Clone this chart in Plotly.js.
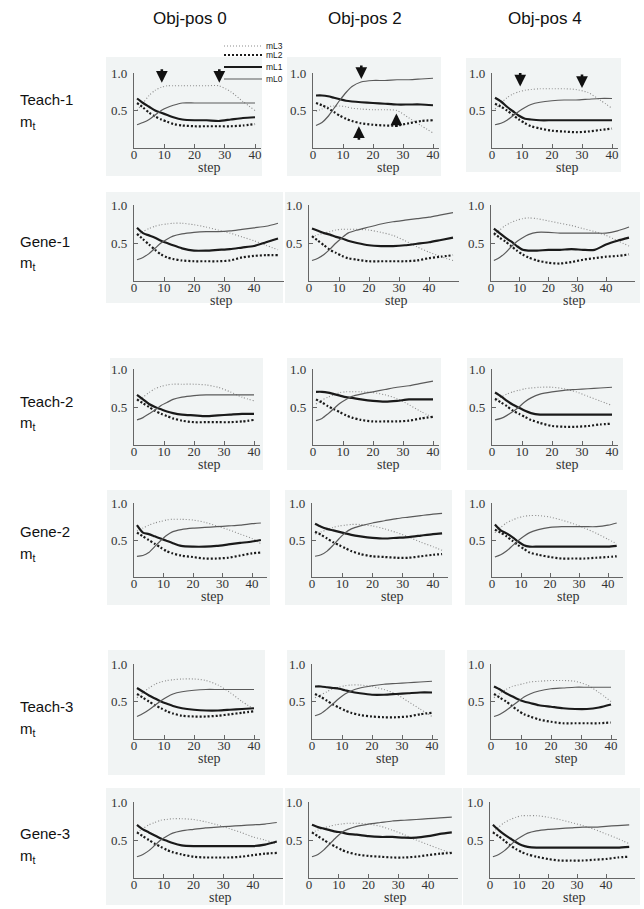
<!DOCTYPE html>
<html><head><meta charset="utf-8">
<script src="https://cdn.plot.ly/plotly-3.0.1.min.js"></script>
<style>html,body{margin:0;padding:0;background:#fff}#plot{width:644px;height:909px}</style>
</head><body><div id="plot"></div>
<script>
// ---------- DATA ----------
const colTitles = ['Obj-pos 0', 'Obj-pos 2', 'Obj-pos 4'];
const rowTitles = ['Teach-1', 'Gene-1', 'Teach-2', 'Gene-2', 'Teach-3', 'Gene-3'];
const seriesNames = ['mL3', 'mL2', 'mL1', 'mL0'];
const xTickVals = [0, 10, 20, 30, 40];
const yTickVals = [0.5, 1.0];
const yTickText = ['0.5', '1.0'];
const xTitle = 'step';

const stepsT  = [1,3,5,7,9,11,13,16,20,24,28,32,36,40];
const stepsG  = [1,3,5,7,9,11,13,16,20,24,28,32,36,40,44,48];
const stepsG2 = [1,3,5,7,9,11,13,16,20,24,28,32,36,40,43];

// Teach-1
const t1p0_mL3 = [0.50,0.60,0.70,0.77,0.81,0.83,0.83,0.83,0.83,0.83,0.83,0.75,0.62,0.50];
const t1p0_mL2 = [0.60,0.54,0.47,0.42,0.38,0.35,0.32,0.30,0.29,0.29,0.29,0.29,0.30,0.32];
const t1p0_mL1 = [0.66,0.60,0.55,0.50,0.47,0.44,0.41,0.38,0.37,0.37,0.36,0.38,0.40,0.41];
const t1p0_mL0 = [0.31,0.34,0.38,0.44,0.50,0.54,0.57,0.60,0.60,0.60,0.60,0.60,0.60,0.60];

const t1p2_mL3 = [0.49,0.52,0.55,0.56,0.56,0.55,0.53,0.52,0.51,0.51,0.50,0.40,0.30,0.20];
const t1p2_mL2 = [0.60,0.57,0.53,0.48,0.43,0.39,0.36,0.33,0.31,0.30,0.30,0.33,0.36,0.37];
const t1p2_mL1 = [0.70,0.70,0.69,0.67,0.65,0.63,0.62,0.61,0.60,0.59,0.58,0.58,0.58,0.57];
const t1p2_mL0 = [0.30,0.34,0.42,0.53,0.64,0.74,0.82,0.88,0.90,0.90,0.91,0.91,0.92,0.93];

const t1p4_mL3 = [0.52,0.60,0.67,0.72,0.75,0.77,0.78,0.79,0.79,0.79,0.78,0.74,0.64,0.53];
const t1p4_mL2 = [0.59,0.55,0.50,0.44,0.38,0.33,0.29,0.26,0.23,0.22,0.21,0.22,0.24,0.26];
const t1p4_mL1 = [0.67,0.62,0.55,0.49,0.43,0.39,0.38,0.37,0.37,0.37,0.37,0.37,0.37,0.37];
const t1p4_mL0 = [0.31,0.33,0.37,0.43,0.49,0.54,0.58,0.61,0.63,0.64,0.64,0.65,0.66,0.66];

// Gene-1
const g1p0_mL3 = [0.60,0.65,0.69,0.72,0.74,0.75,0.76,0.76,0.74,0.71,0.67,0.63,0.58,0.53,0.47,0.41];
const g1p0_mL2 = [0.62,0.55,0.48,0.41,0.35,0.31,0.29,0.27,0.26,0.26,0.26,0.27,0.31,0.33,0.34,0.34];
const g1p0_mL1 = [0.70,0.63,0.60,0.57,0.53,0.50,0.47,0.43,0.40,0.40,0.41,0.42,0.44,0.46,0.51,0.56];
const g1p0_mL0 = [0.28,0.31,0.36,0.43,0.50,0.55,0.59,0.62,0.64,0.65,0.65,0.66,0.68,0.70,0.72,0.76];

const g1p2_mL3 = [0.58,0.61,0.63,0.65,0.67,0.68,0.68,0.68,0.67,0.64,0.60,0.53,0.45,0.38,0.32,0.27];
const g1p2_mL2 = [0.59,0.53,0.47,0.41,0.37,0.33,0.30,0.28,0.26,0.26,0.26,0.26,0.27,0.30,0.32,0.34];
const g1p2_mL1 = [0.69,0.66,0.63,0.61,0.58,0.56,0.53,0.50,0.47,0.46,0.46,0.47,0.49,0.51,0.54,0.57];
const g1p2_mL0 = [0.27,0.30,0.35,0.42,0.50,0.57,0.63,0.67,0.71,0.75,0.78,0.80,0.82,0.84,0.87,0.90];

const g1p4_mL3 = [0.60,0.67,0.73,0.77,0.80,0.82,0.83,0.82,0.79,0.76,0.73,0.69,0.65,0.60,0.53,0.46];
const g1p4_mL2 = [0.63,0.57,0.52,0.46,0.40,0.35,0.31,0.27,0.24,0.23,0.25,0.28,0.30,0.32,0.33,0.35];
const g1p4_mL1 = [0.69,0.63,0.57,0.52,0.46,0.41,0.40,0.40,0.41,0.41,0.42,0.41,0.41,0.48,0.53,0.57];
const g1p4_mL0 = [0.27,0.31,0.37,0.45,0.52,0.57,0.61,0.64,0.64,0.63,0.63,0.63,0.63,0.63,0.66,0.71];

// Teach-2
const t2p0_mL3 = [0.58,0.63,0.69,0.74,0.77,0.79,0.80,0.80,0.80,0.79,0.76,0.70,0.63,0.58];
const t2p0_mL2 = [0.60,0.55,0.50,0.45,0.41,0.38,0.35,0.32,0.30,0.30,0.30,0.30,0.31,0.33];
const t2p0_mL1 = [0.66,0.60,0.54,0.50,0.47,0.44,0.42,0.40,0.39,0.38,0.39,0.40,0.41,0.41];
const t2p0_mL0 = [0.33,0.36,0.41,0.46,0.52,0.56,0.60,0.63,0.65,0.66,0.66,0.66,0.66,0.66];

const t2p2_mL3 = [0.54,0.59,0.63,0.66,0.69,0.70,0.70,0.70,0.69,0.66,0.61,0.53,0.44,0.36];
const t2p2_mL2 = [0.60,0.56,0.51,0.47,0.43,0.39,0.36,0.33,0.31,0.31,0.31,0.32,0.35,0.37];
const t2p2_mL1 = [0.70,0.70,0.69,0.67,0.65,0.63,0.62,0.60,0.58,0.57,0.58,0.60,0.60,0.60];
const t2p2_mL0 = [0.32,0.35,0.41,0.48,0.55,0.60,0.64,0.67,0.70,0.73,0.76,0.78,0.81,0.84];

const t2p4_mL3 = [0.58,0.63,0.67,0.70,0.72,0.74,0.75,0.76,0.76,0.74,0.70,0.64,0.58,0.52];
const t2p4_mL2 = [0.61,0.56,0.51,0.45,0.41,0.37,0.33,0.29,0.25,0.24,0.24,0.25,0.27,0.28];
const t2p4_mL1 = [0.69,0.64,0.58,0.53,0.49,0.45,0.42,0.40,0.40,0.40,0.40,0.40,0.40,0.40];
const t2p4_mL0 = [0.33,0.35,0.39,0.44,0.50,0.57,0.62,0.67,0.70,0.72,0.73,0.74,0.75,0.76];

// Gene-2
const g2p0_mL3 = [0.62,0.66,0.70,0.73,0.75,0.77,0.78,0.78,0.77,0.74,0.69,0.64,0.58,0.52,0.45];
const g2p0_mL2 = [0.60,0.55,0.50,0.45,0.40,0.35,0.32,0.29,0.27,0.25,0.25,0.26,0.29,0.32,0.33];
const g2p0_mL1 = [0.70,0.60,0.58,0.55,0.52,0.49,0.46,0.42,0.41,0.41,0.42,0.44,0.46,0.48,0.50];
const g2p0_mL0 = [0.28,0.29,0.33,0.41,0.49,0.56,0.61,0.64,0.66,0.67,0.68,0.69,0.70,0.72,0.73];

const g2p2_mL3 = [0.58,0.61,0.64,0.67,0.69,0.70,0.71,0.71,0.69,0.65,0.60,0.54,0.47,0.41,0.36];
const g2p2_mL2 = [0.61,0.57,0.52,0.47,0.43,0.39,0.35,0.31,0.28,0.27,0.26,0.26,0.28,0.30,0.31];
const g2p2_mL1 = [0.72,0.68,0.65,0.63,0.61,0.59,0.57,0.55,0.53,0.52,0.53,0.54,0.56,0.58,0.59];
const g2p2_mL0 = [0.28,0.30,0.35,0.43,0.52,0.60,0.65,0.69,0.73,0.76,0.79,0.81,0.83,0.85,0.86];

const g2p4_mL3 = [0.60,0.67,0.73,0.77,0.80,0.82,0.83,0.83,0.81,0.77,0.72,0.66,0.59,0.51,0.45];
const g2p4_mL2 = [0.64,0.60,0.55,0.49,0.43,0.38,0.33,0.30,0.27,0.25,0.25,0.25,0.26,0.27,0.28];
const g2p4_mL1 = [0.71,0.63,0.59,0.54,0.48,0.43,0.41,0.41,0.41,0.41,0.41,0.41,0.41,0.41,0.42];
const g2p4_mL0 = [0.27,0.30,0.35,0.42,0.49,0.55,0.60,0.64,0.67,0.68,0.68,0.68,0.68,0.70,0.73];

// Teach-3
const t3p0_mL3 = [0.55,0.62,0.68,0.73,0.76,0.78,0.79,0.80,0.80,0.78,0.72,0.62,0.50,0.40];
const t3p0_mL2 = [0.60,0.55,0.50,0.45,0.41,0.37,0.34,0.31,0.30,0.30,0.31,0.33,0.35,0.37];
const t3p0_mL1 = [0.68,0.63,0.58,0.54,0.50,0.47,0.44,0.41,0.39,0.38,0.38,0.39,0.40,0.41];
const t3p0_mL0 = [0.30,0.34,0.39,0.45,0.51,0.56,0.60,0.63,0.65,0.66,0.66,0.66,0.66,0.66];

const t3p2_mL3 = [0.55,0.59,0.63,0.67,0.69,0.71,0.72,0.72,0.70,0.66,0.60,0.50,0.40,0.30];
const t3p2_mL2 = [0.60,0.56,0.51,0.46,0.42,0.38,0.35,0.32,0.30,0.29,0.29,0.30,0.33,0.35];
const t3p2_mL1 = [0.70,0.70,0.69,0.68,0.67,0.65,0.63,0.61,0.59,0.59,0.60,0.61,0.62,0.62];
const t3p2_mL0 = [0.31,0.34,0.40,0.47,0.54,0.60,0.64,0.68,0.71,0.73,0.74,0.75,0.76,0.77];

const t3p4_mL3 = [0.55,0.61,0.66,0.70,0.72,0.74,0.76,0.77,0.78,0.78,0.77,0.72,0.62,0.50];
const t3p4_mL2 = [0.60,0.55,0.50,0.44,0.38,0.33,0.30,0.26,0.23,0.21,0.21,0.21,0.21,0.22];
const t3p4_mL1 = [0.70,0.66,0.61,0.57,0.53,0.50,0.48,0.45,0.43,0.41,0.40,0.40,0.42,0.46];
const t3p4_mL0 = [0.30,0.33,0.38,0.44,0.50,0.56,0.60,0.64,0.67,0.68,0.69,0.69,0.69,0.69];

// Gene-3
const g3p0_mL3 = [0.60,0.65,0.70,0.73,0.76,0.77,0.78,0.78,0.77,0.74,0.70,0.65,0.60,0.54,0.50,0.45];
const g3p0_mL2 = [0.60,0.55,0.50,0.45,0.41,0.37,0.34,0.31,0.28,0.27,0.27,0.27,0.28,0.30,0.32,0.33];
const g3p0_mL1 = [0.70,0.64,0.60,0.56,0.52,0.49,0.46,0.43,0.42,0.42,0.42,0.42,0.42,0.42,0.44,0.48];
const g3p0_mL0 = [0.28,0.31,0.36,0.43,0.50,0.55,0.59,0.62,0.64,0.66,0.67,0.68,0.69,0.70,0.71,0.73];

const g3p2_mL3 = [0.60,0.63,0.66,0.68,0.70,0.71,0.72,0.72,0.71,0.68,0.63,0.57,0.50,0.44,0.38,0.33];
const g3p2_mL2 = [0.60,0.55,0.50,0.45,0.41,0.37,0.34,0.31,0.29,0.28,0.27,0.27,0.28,0.30,0.32,0.33];
const g3p2_mL1 = [0.70,0.67,0.65,0.63,0.61,0.60,0.58,0.57,0.55,0.54,0.54,0.53,0.53,0.55,0.58,0.60];
const g3p2_mL0 = [0.28,0.31,0.37,0.45,0.53,0.60,0.64,0.68,0.71,0.73,0.75,0.76,0.77,0.78,0.79,0.80];

const g3p4_mL3 = [0.60,0.67,0.73,0.77,0.80,0.82,0.82,0.82,0.80,0.77,0.73,0.69,0.64,0.58,0.52,0.45];
const g3p4_mL2 = [0.60,0.55,0.49,0.43,0.38,0.34,0.31,0.28,0.25,0.23,0.23,0.23,0.24,0.25,0.27,0.28];
const g3p4_mL1 = [0.70,0.63,0.57,0.52,0.47,0.43,0.41,0.40,0.40,0.40,0.40,0.40,0.40,0.40,0.40,0.41];
const g3p4_mL0 = [0.28,0.31,0.36,0.43,0.50,0.55,0.59,0.62,0.64,0.65,0.66,0.67,0.67,0.68,0.69,0.70];

// Arrow markers (step, value, direction) on Teach-1 panels
const arrowsT1p0 = [[9.2, 0.87, 'down'], [28.2, 0.87, 'down']];
const arrowsT1p2 = [[16.1, 0.92, 'down'], [15.3, 0.29, 'up'], [27.8, 0.46, 'up']];
const arrowsT1p4 = [[9.4, 0.82, 'down'], [30.0, 0.80, 'down']];

// ---------- STRUCTURE ----------
const W = 644, H = 909;
const panelData = [
  [[stepsT,  [t1p0_mL3,t1p0_mL2,t1p0_mL1,t1p0_mL0]], [stepsT,  [t1p2_mL3,t1p2_mL2,t1p2_mL1,t1p2_mL0]], [stepsT,  [t1p4_mL3,t1p4_mL2,t1p4_mL1,t1p4_mL0]]],
  [[stepsG,  [g1p0_mL3,g1p0_mL2,g1p0_mL1,g1p0_mL0]], [stepsG,  [g1p2_mL3,g1p2_mL2,g1p2_mL1,g1p2_mL0]], [stepsG,  [g1p4_mL3,g1p4_mL2,g1p4_mL1,g1p4_mL0]]],
  [[stepsT,  [t2p0_mL3,t2p0_mL2,t2p0_mL1,t2p0_mL0]], [stepsT,  [t2p2_mL3,t2p2_mL2,t2p2_mL1,t2p2_mL0]], [stepsT,  [t2p4_mL3,t2p4_mL2,t2p4_mL1,t2p4_mL0]]],
  [[stepsG2, [g2p0_mL3,g2p0_mL2,g2p0_mL1,g2p0_mL0]], [stepsG2, [g2p2_mL3,g2p2_mL2,g2p2_mL1,g2p2_mL0]], [stepsG2, [g2p4_mL3,g2p4_mL2,g2p4_mL1,g2p4_mL0]]],
  [[stepsT,  [t3p0_mL3,t3p0_mL2,t3p0_mL1,t3p0_mL0]], [stepsT,  [t3p2_mL3,t3p2_mL2,t3p2_mL1,t3p2_mL0]], [stepsT,  [t3p4_mL3,t3p4_mL2,t3p4_mL1,t3p4_mL0]]],
  [[stepsG,  [g3p0_mL3,g3p0_mL2,g3p0_mL1,g3p0_mL0]], [stepsG,  [g3p2_mL3,g3p2_mL2,g3p2_mL1,g3p2_mL0]], [stepsG,  [g3p4_mL3,g3p4_mL2,g3p4_mL1,g3p4_mL0]]]
];
const panelArrows = {'0_0': arrowsT1p0, '0_1': arrowsT1p2, '0_2': arrowsT1p4};

// Layout geometry (pixels)
const rowY = [[73,148],[205,281],[369,445],[503,577],[664,739],[802,878]];   // [y of 1.0, y of 0]
const rowXmax = [42, 50, 42, 45, 42, 50];
const colX = [ // [px of step 0, px of step 40]
  [[134,255],[313,433],[492,612]],
  [[134,254],[309,429],[491,606]],
  [[134,254],[313,433],[492,612]],
  [[134,252],[312,433],[492,608]],
  [[134,254],[312,432],[491,611]],
  [[134,253],[309,428],[490,606]]
];
const bgRects = [ // [x0,x1,y0,y1]
  [[106,262,57,176],[287,441,57,176],[466,621,58,172]],
  [[106,283,192,303],[285,462,192,303],[462,640,192,303]],
  [[110,263,358,470],[287,441,358,470],[467,623,358,470]],
  [[107,270,490,605],[285,452,490,605],[465,627,490,605]],
  [[108,265,650,775],[287,445,650,775],[467,625,650,775]],
  [[106,283,788,905],[285,462,788,905],[463,640,788,905]]
];
const rowLabelY = [100, 241, 401, 531, 706, 833];
const colTitleX = [190, 365, 545];

const styles = [
  {color:'#8c8c8c', width:1.1, dash:'1px,2px'},
  {color:'#1a1a1a', width:2.2, dash:'2px,2px'},
  {color:'#1a1a1a', width:2.2, dash:'solid'},
  {color:'#5a5a5a', width:1.2, dash:'solid'}
];

const traces = [];
const layout = {
  width: W, height: H,
  margin: {l:0, r:0, t:0, b:0},
  paper_bgcolor: '#ffffff',
  plot_bgcolor: 'rgba(0,0,0,0)',
  showlegend: false,
  shapes: [], annotations: []
};
const serifFam = 'Liberation Serif';

let k = 0;
for (let r = 0; r < 6; r++) {
  for (let c = 0; c < 3; c++) {
    k++;
    const xa = 'xaxis' + (k === 1 ? '' : k), ya = 'yaxis' + (k === 1 ? '' : k);
    const xr = 'x' + (k === 1 ? '' : k), yr = 'y' + (k === 1 ? '' : k);
    const [x0, x40] = colX[r][c];
    const xmax = rowXmax[r];
    const xEnd = x0 + (x40 - x0) / 40 * xmax;
    const [yTop, yBot] = rowY[r];
    layout[xa] = {
      domain: [x0 / W, xEnd / W], range: [0, xmax], anchor: yr,
      tickmode: 'array', tickvals: xTickVals, ticks: 'inside', ticklen: 4, tickcolor: '#666',
      showline: true, linecolor: '#666', linewidth: 1.2, showgrid: false, zeroline: false,
      tickfont: {family: serifFam, size: 13, color: '#333'}, fixedrange: true, ticklabelstandoff: -6
    };
    layout[ya] = {
      domain: [1 - yBot / H, 1 - yTop / H], range: [0, 1], anchor: xr,
      tickmode: 'array', tickvals: yTickVals, ticktext: yTickText, ticks: 'inside', ticklen: 4, tickcolor: '#666',
      showline: true, linecolor: '#666', linewidth: 1.2, showgrid: false, zeroline: false,
      tickfont: {family: serifFam, size: 13, color: '#333'}, fixedrange: true, ticklabelstandoff: 3
    };
    const [steps, ser] = panelData[r][c];
    ser.forEach((vals, i) => {
      traces.push({
        type: 'scatter', mode: 'lines', x: steps, y: vals, name: seriesNames[i],
        xaxis: xr, yaxis: yr, hoverinfo: 'skip',
        line: {color: styles[i].color, width: styles[i].width, dash: styles[i].dash, shape: 'spline', smoothing: 0.7}
      });
    });
    // x-axis title "step"
    layout.annotations.push({xref: xr, yref: 'paper', x: xmax / 2 + 4, y: 1 - (yBot + 19) / H, text: xTitle,
      showarrow: false, xanchor: 'center', yanchor: 'middle', font: {family: serifFam, size: 14, color: '#333'}});
    const b = bgRects[r][c];
    layout.shapes.push({type:'rect', xref:'paper', yref:'paper', layer:'below',
      x0: b[0]/W, x1: b[1]/W, y0: 1 - b[3]/H, y1: 1 - b[2]/H, fillcolor: '#f1f4f4', line: {width: 0}});
    const arr = panelArrows[r + '_' + c];
    if (arr) arr.forEach(a => {
      layout.annotations.push({xref: xr, yref: yr, x: a[0], y: a[1], text: '', showarrow: true,
        arrowhead: 2, arrowsize: 0.9, arrowwidth: 2.6, arrowcolor: '#111', ax: 0, ay: a[2] === 'down' ? -15 : 15});
    });
  }
}

// Column & row titles
colTitles.forEach((t, i) => layout.annotations.push({xref:'paper', yref:'paper', x: colTitleX[i]/W, y: 1 - 18/H,
  text: t, showarrow: false, xanchor:'center', yanchor:'middle',
  font: {family:'Liberation Sans, Arial, sans-serif', size:17, color:'#111'}}));
rowTitles.forEach((t, i) => {
  layout.annotations.push({xref:'paper', yref:'paper', x: 18/W, y: 1 - rowLabelY[i]/H, text: t, showarrow:false,
    xanchor:'left', yanchor:'middle', font: {family:'Liberation Sans, Arial, sans-serif', size:15, color:'#111'}});
  layout.annotations.push({xref:'paper', yref:'paper', x: 18/W, y: 1 - (rowLabelY[i] + 23)/H, text: 'm<sub>t</sub>', showarrow:false,
    xanchor:'left', yanchor:'middle', font: {family:'Liberation Sans, Arial, sans-serif', size:15, color:'#111'}});
});

// Manual legend (top right of first panel)
const legY = [46, 55, 67, 79];
seriesNames.forEach((n, i) => {
  layout.shapes.push({type:'line', xref:'paper', yref:'paper', x0: 224/W, x1: 262/W, y0: 1 - legY[i]/H, y1: 1 - legY[i]/H,
    line: {color: styles[i].color, width: styles[i].width, dash: styles[i].dash}});
  layout.annotations.push({xref:'paper', yref:'paper', x: 264/W, y: 1 - legY[i]/H, text: n, showarrow:false,
    xanchor:'left', yanchor:'middle', font: {family:'Liberation Sans, Arial, sans-serif', size:8.5, color:'#222'}});
});

Plotly.newPlot('plot', traces, layout, {staticPlot: true, displayModeBar: false});
</script></body></html>
